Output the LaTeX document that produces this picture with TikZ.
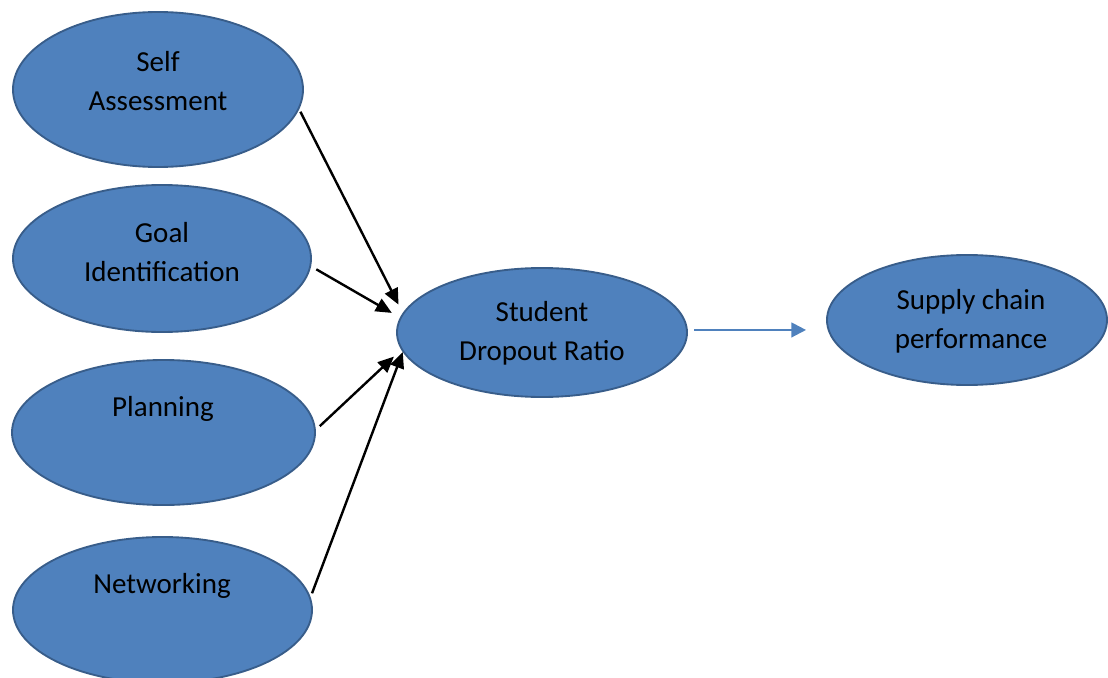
\documentclass[tikz,border=0pt]{standalone}
\usepackage{fontspec}
\setmainfont{Carlito}
\usepackage{tikz}
\usetikzlibrary{arrows.meta}
\usetikzlibrary{shapes.geometric}

\definecolor{bubblefill}{HTML}{4F81BD}
\definecolor{bubbleline}{HTML}{385D8A}

\tikzset{
  bubble/.style={ellipse, draw=bubbleline, fill=bubblefill, line width=1.4pt,
                 inner sep=0pt},
  caption/.style={align=center, font=\fontsize{21.75}{29.25}\selectfont},
  feed/.style={line width=1.8pt, black, -{Triangle[length=12pt,width=10.5pt]}},
  lead/.style={line width=1.6pt, bubblefill, -{Triangle[length=11pt,width=11pt]}}
}

\begin{document}
\begin{tikzpicture}[x=0.75pt, y=-0.75pt]
\useasboundingbox (0,0) rectangle (1108,678);

% ellipses
\node[bubble, minimum width=217.5pt, minimum height=116.25pt] (self) at (158,89.5) {};
\node[bubble, minimum width=223.5pt, minimum height=110.25pt] (goal) at (162,258.5) {};
\node[bubble, minimum width=227.25pt, minimum height=108.75pt] (plan) at (163.5,432.5) {};
\node[bubble, minimum width=224.25pt, minimum height=109.5pt] (net) at (162.5,610) {};
\node[bubble, minimum width=217.5pt, minimum height=96.75pt] (sdr) at (542,332.5) {};
\node[bubble, minimum width=210pt, minimum height=97.5pt] (scp) at (967,320) {};

% texts
\node[caption] (selftxt) at (158,81) {Self\\Assessment};
\node[caption] (goaltxt) at (162,252) {Goal\\Identification};
\node[caption] (plantxt) at (163,409) {Planning};
\node[caption] (nettxt) at (162,586) {Networking};
\node[caption] (sdrtxt) at (542,333.5) {Student\\Dropout Ratio};
\node[caption] (scptxt) at (971,321.5) {Supply chain\\performance};

% arrows
\draw[feed, shorten <=2pt, shorten >=7pt] (self.-8) -- (sdr.172.7);
\draw[feed, shorten <=4.5pt, shorten >=7pt] (goal.-3.9) -- (sdr.174.9);
\draw[feed, shorten <=4pt, shorten >=7.5pt] (plan.1.3) -- (sdr.187);
\draw[feed, shorten <=3pt, shorten >=0pt] (net.5.3) -- (sdr.188.6);
\draw[lead, shorten <=5pt, shorten >=15pt] (sdr.1.3) -- (sdr.1.3 -| scp.west);
\end{tikzpicture}
\end{document}
